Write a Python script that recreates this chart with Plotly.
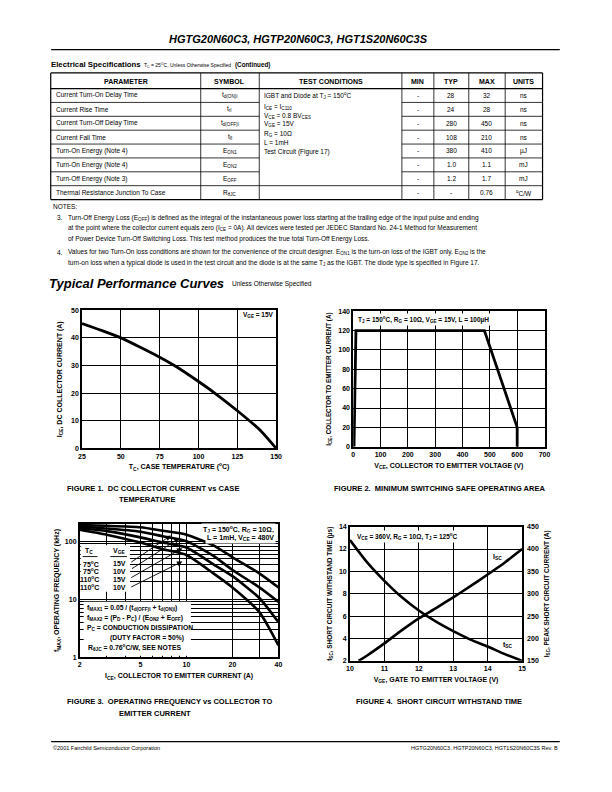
import math
import plotly.graph_objects as go

W, H = 612, 792
FONT = "Liberation Sans, Arial, Helvetica, sans-serif"

# ---------------- data ----------------
page_title = "HGTG20N60C3, HGTP20N60C3, HGT1S20N60C3S"
table_headers = ["PARAMETER", "SYMBOL", "TEST CONDITIONS", "MIN", "TYP", "MAX", "UNITS"]
params = ["Current Turn-On Delay Time", "Current Rise Time", "Current Turn-Off Delay Time",
          "Current Fall Time", "Turn-On Energy (Note 4)", "Turn-On Energy (Note 4)",
          "Turn-Off Energy (Note 3)", "Thermal Resistance Junction To Case"]
symbols = ["t<sub>d(ON)I</sub>", "t<sub>rI</sub>", "t<sub>d(OFF)I</sub>", "t<sub>fI</sub>",
           "E<sub>ON1</sub>", "E<sub>ON2</sub>", "E<sub>OFF</sub>", "R<sub>θJC</sub>"]
test_conditions = ["IGBT and Diode at T<sub>J</sub> = 150<sup>o</sup>C",
                   "I<sub>CE</sub> = I<sub>C110</sub>",
                   "V<sub>CE</sub> = 0.8 BV<sub>CES</sub>",
                   "V<sub>GE</sub> = 15V",
                   "R<sub>G</sub> = 10Ω",
                   "L = 1mH",
                   "Test Circuit (Figure 17)"]
mins = ["-", "-", "-", "-", "-", "-", "-", "-"]
typs = ["28", "24", "280", "108", "380", "1.0", "1.2", "-"]
maxs = ["32", "28", "450", "210", "410", "1.1", "1.7", "0.76"]
units = ["ns", "ns", "ns", "ns", "µJ", "mJ", "mJ", "<sup>o</sup>C/W"]

notes = [
    ("3.", ["Turn-Off Energy Loss (E<sub>OFF</sub>) is defined as the integral of the instantaneous power loss starting at the trailing edge of the input pulse and ending",
            "at the point where the collector current equals zero (I<sub>CE</sub> = 0A). All devices were tested per JEDEC Standard No. 24-1 Method for Measurement",
            "of Power Device Turn-Off Switching Loss. This test method produces the true total Turn-Off Energy Loss."]),
    ("4.", ["Values for two Turn-On loss conditions are shown for the convenience of the circuit designer. E<sub>ON1</sub> is the turn-on loss of the IGBT only. E<sub>ON2</sub> is the",
            "turn-on loss when a typical diode is used in the test circuit and the diode is at the same T<sub>J</sub> as the IGBT. The diode type is specified in Figure 17."]),
]

# Figure 1
fig1_tc = [25, 37.5, 50, 62.5, 75, 85, 100, 110, 125, 140, 150]
fig1_ice = [45.2, 42.7, 40, 36.6, 33, 29.8, 24.2, 20.2, 13.6, 6.4, 0]
# Figure 2
fig2_vce = [3, 10, 480, 600, 600]
fig2_ice = [0, 120, 120, 20, 0]
# Figure 3
fig3_ice = [2, 3, 5, 7, 10, 15, 20, 30, 40]
fig3_f_75_15 = [190, 185, 175, 152, 130, 85, 53, 28, 16]
fig3_f_75_10 = [178, 166, 146, 122, 100, 56, 32, 16, 9]
fig3_f_110_15 = [168, 150, 117, 95, 78, 40, 25, 10.5, 4]
fig3_f_110_10 = [158, 130, 95, 73, 58, 28, 16, 6, 1.6]
fig3_tc_labels = ["75<sup>o</sup>C", "75<sup>o</sup>C", "110<sup>o</sup>C", "110<sup>o</sup>C"]
fig3_vge_labels = ["15V", "10V", "15V", "10V"]
fig3_arrow_tail = [(4.25, 42), (4.3, 32.5), (4.25, 22.8), (4.25, 15.8)]
fig3_arrow_tip = [(7.9, 126), (9.0, 113), (9.4, 76), (9.4, 45)]
# Figure 4
fig4_vge = [10, 10.5, 11, 11.5, 12, 12.5, 13, 13.5, 14, 14.5, 15]
fig4_tsc = [12.8, 10.8, 9.15, 7.7, 6.5, 5.5, 4.65, 3.9, 3.28, 2.6, 2.0]
fig4_vge_i = [10.25, 10.5, 11, 11.5, 12, 12.5, 13, 13.5, 14, 14.5, 15]
fig4_isc = [150, 162, 189, 218, 245, 268, 292, 317, 343, 370, 400]


def px(x):
    return x / W


def py(y):
    return 1 - y / H


fig = go.Figure()
annotations = []
shapes = []


def text(x, y, s, size=7, bold=False, italic=False, xanchor="left", yanchor="middle", bg=None, ref=("paper", "paper")):
    d = dict(x=x, y=y, xref=ref[0], yref=ref[1], text=s, showarrow=False,
             xanchor=xanchor, yanchor=yanchor,
             font=dict(family=FONT, size=size, color="black",
                       weight="bold" if bold else "normal",
                       style="italic" if italic else "normal"))
    if bg:
        d["bgcolor"] = bg
        d["borderpad"] = 1
    annotations.append(d)


def hline(x0, x1, y, w=1):
    shapes.append(dict(type="line", xref="paper", yref="paper", x0=px(x0), x1=px(x1),
                       y0=py(y), y1=py(y), line=dict(color="black", width=w)))


def vline(x, y0, y1, w=1):
    shapes.append(dict(type="line", xref="paper", yref="paper", x0=px(x), x1=px(x),
                       y0=py(y0), y1=py(y1), line=dict(color="black", width=w)))


# ---------------- header ----------------
text(px(299), py(35), page_title, size=11, bold=True, italic=True, xanchor="center")
hline(48, 565, 46, 1.2)
text(px(46), py(61), "Electrical Specifications", size=7.8, bold=True)
text(px(140), py(62), "T<sub>C</sub> = 25<sup>O</sup>C, Unless Otherwise Specified", size=5)
text(px(233), py(62), "(Continued)", size=6.3, bold=True)

# ---------------- table ----------------
col_x = [47.5, 200, 259.5, 404.5, 437, 472.5, 509.5, 547.5]
row_top = 69.5
header_bot = 85.3
row_h = 14
n_rows = len(params)
table_bot = header_bot + n_rows * row_h
hline(col_x[0], col_x[-1], row_top, 1.2)
hline(col_x[0], col_x[-1], header_bot, 1.2)
hline(col_x[0], col_x[-1], table_bot, 1.2)
for i in range(1, n_rows):
    yy = header_bot + i * row_h
    if i == n_rows - 1:
        hline(col_x[0], col_x[-1], yy, 0.8)
    else:
        hline(col_x[0], col_x[2], yy, 0.8)
        hline(col_x[3], col_x[-1], yy, 0.8)
for j, cx in enumerate(col_x):
    vline(cx, row_top, table_bot, 1.2 if j in (0, len(col_x) - 1) else 0.8)
for j, h in enumerate(table_headers):
    text(px((col_x[j] + col_x[j + 1]) / 2), py((row_top + header_bot) / 2 + 0.5), h, size=7, bold=True, xanchor="center")
for i in range(n_rows):
    yc = header_bot + i * row_h + row_h / 2
    text(px(col_x[0] + 3), py(yc), params[i], size=6.5)
    text(px((col_x[1] + col_x[2]) / 2), py(yc), symbols[i], size=6.5, xanchor="center")
    text(px((col_x[3] + col_x[4]) / 2), py(yc), mins[i], size=6.5, xanchor="center")
    text(px((col_x[4] + col_x[5]) / 2), py(yc), typs[i], size=6.5, xanchor="center")
    text(px((col_x[5] + col_x[6]) / 2), py(yc), maxs[i], size=6.5, xanchor="center")
    text(px((col_x[6] + col_x[7]) / 2), py(yc), units[i], size=6.5, xanchor="center")
tc_y = [92.3, 103.5, 112.5, 121.5, 131, 140, 149.5]
for k, s in enumerate(test_conditions):
    text(px(col_x[2] + 3), py(tc_y[k]), s, size=6.5)

# ---------------- notes ----------------
text(px(48), py(204), "NOTES:", size=6.5)
note_y = [[215.7, 226.5, 237.5], [250.7, 261.5]]
for (num, lines), ys in zip(notes, note_y):
    text(px(52), py(ys[0]), num, size=6.5)
    for s, yy in zip(lines, ys):
        text(px(63), py(yy), s, size=6.5)

text(px(44), py(281.5), "Typical Performance Curves", size=13, bold=True, italic=True)
text(px(230), py(282), "Unless Otherwise Specified", size=6.5)

# ---------------- axes domains ----------------
dom = {
    1: ((79.3, 276.7), (448.3, 309)),
    2: ((355, 549.5), (446.7, 310)),
    3: ((77, 279), (659, 524.5)),
    4: ((351.7, 526.7), (662.7, 527.3)),
}
FIG3_XR = (math.log10(2), math.log10(40))
FIG3_YR = (0, math.log10(200))


def fig3_pt(x, y):
    """page pixel -> figure 3 data value (log axes), for background boxes"""
    (x0, x1), (yb, yt) = dom[3]
    lx = FIG3_XR[0] + (x - x0) / (x1 - x0) * (FIG3_XR[1] - FIG3_XR[0])
    ly = FIG3_YR[0] + (yb - y) / (yb - yt) * (FIG3_YR[1] - FIG3_YR[0])
    return 10 ** lx, 10 ** ly


TICKF = dict(family=FONT, size=7, color="black", weight="bold")
TITF = dict(family=FONT, size=7, color="black", weight="bold")


def ax_common(**kw):
    base = dict(showline=True, linecolor="black", linewidth=1.6, mirror=True,
                showgrid=True, gridcolor="black", gridwidth=1, zeroline=False,
                ticks="", tickfont=TICKF, title_font=TITF, fixedrange=True)
    base.update(kw)
    return base


layout = dict(width=W, height=H, margin=dict(l=0, r=0, t=0, b=0),
              paper_bgcolor="white", plot_bgcolor="white", showlegend=False)

# Figure 1
fig.add_trace(go.Scatter(x=fig1_tc, y=fig1_ice, mode="lines", line=dict(color="black", width=2.8, shape="spline", smoothing=0.6),
                         xaxis="x", yaxis="y"))
layout["xaxis"] = ax_common(domain=[px(dom[1][0][0]), px(dom[1][0][1])], anchor="y", range=[25, 150],
                            tickvals=[25, 50, 75, 100, 125, 150],
                            title=dict(text="T<sub>C</sub>, CASE TEMPERATURE (<sup>o</sup>C)", standoff=6))
layout["yaxis"] = ax_common(domain=[py(dom[1][1][0]), py(dom[1][1][1])], anchor="x", range=[0, 50],
                            tickvals=[0, 10, 20, 30, 40, 50],
                            title=dict(text="I<sub>CE</sub>, DC COLLECTOR CURRENT (A)", standoff=8))
text(150, 48.2, "V<sub>GE</sub> = 15V", size=6.5, bold=True, xanchor="right", ref=("x", "y"))

# Figure 2
fig.add_trace(go.Scatter(x=fig2_vce, y=fig2_ice, mode="lines", line=dict(color="black", width=2.8),
                         xaxis="x2", yaxis="y2"))
layout["xaxis2"] = ax_common(domain=[px(dom[2][0][0]), px(dom[2][0][1])], anchor="y2", range=[0, 700],
                             tickvals=[0, 100, 200, 300, 400, 500, 600, 700],
                             title=dict(text="V<sub>CE</sub>, COLLECTOR TO EMITTER VOLTAGE (V)", standoff=6))
layout["yaxis2"] = ax_common(domain=[py(dom[2][1][0]), py(dom[2][1][1])], anchor="x2", range=[0, 140],
                             tickvals=[0, 20, 40, 60, 80, 100, 120, 140],
                             title=dict(text="I<sub>CE</sub>, COLLECTOR TO EMITTER CURRENT (A)", standoff=6,
                                        font=dict(family=FONT, size=6.3, color="black", weight="bold")))
text(12, 131, "T<sub>J</sub> = 150<sup>o</sup>C, R<sub>G</sub> = 10Ω, V<sub>GE</sub> = 15V, L = 100µH", size=6.5, bold=True,
     bg="white", ref=("x2", "y2"))

# Figure 3: white background boxes behind the in-plot text (hide grid), then curves
for (xa, xb, ya, yb) in [(78, 128, 546, 593), (81, 190, 603, 657.5)]:
    (bx0, by0), (bx1, by1) = fig3_pt(xa, yb), fig3_pt(xb, ya)
    fig.add_trace(go.Scatter(x=[bx0, bx1, bx1, bx0, bx0], y=[by0, by0, by1, by1, by0], mode="lines",
                             fill="toself", fillcolor="white", line=dict(width=0, color="white"),
                             hoverinfo="skip", xaxis="x3", yaxis="y3"))
for series in (fig3_f_75_15, fig3_f_75_10, fig3_f_110_15, fig3_f_110_10):
    fig.add_trace(go.Scatter(x=fig3_ice, y=series, mode="lines",
                             line=dict(color="black", width=2.6, shape="spline", smoothing=0.6),
                             xaxis="x3", yaxis="y3"))
layout["xaxis3"] = ax_common(domain=[px(dom[3][0][0]), px(dom[3][0][1])], anchor="y3", type="log",
                             range=list(FIG3_XR), tickvals=[2, 5, 10, 20, 40],
                             ticktext=["2", "5", "10", "20", "40"],
                             minor=dict(tickvals=[3, 4, 6, 7, 8, 9, 30], showgrid=True, gridcolor="black", gridwidth=0.9, ticks=""),
                             title=dict(text="I<sub>CE</sub>, COLLECTOR TO EMITTER CURRENT (A)", standoff=6))
layout["yaxis3"] = ax_common(domain=[py(dom[3][1][0]), py(dom[3][1][1])], anchor="x3", type="log",
                             range=list(FIG3_YR), tickvals=[1, 10, 100], ticktext=["1", "10", "100"],
                             minor=dict(tickvals=[2, 3, 4, 5, 6, 7, 8, 9, 20, 30, 40, 50, 60, 70, 80, 90],
                                        showgrid=True, gridcolor="black", gridwidth=0.9, ticks=""),
                             title=dict(text="f<sub>MAX</sub>, OPERATING FREQUENCY (kHz)", standoff=4))
text(px(86.5), py(552), "T<sub>C</sub>", size=7, bold=True, xanchor="center")
text(px(116.5), py(552), "V<sub>GE</sub>", size=7, bold=True, xanchor="center")
hline(80, 95, 557.5, 0.9)
hline(108, 125, 557.5, 0.9)
row_ys = [564.5, 572.5, 580.5, 588.5]
for k in range(4):
    text(px(99), py(row_ys[k]), fig3_tc_labels[k], size=7, bold=True, xanchor="right")
    text(px(109), py(row_ys[k]), fig3_vge_labels[k], size=7, bold=True, xanchor="left")
for (tx, ty), (hx, hy) in zip(fig3_arrow_tail, fig3_arrow_tip):
    annotations.append(dict(x=math.log10(hx), y=math.log10(hy), ax=math.log10(tx), ay=math.log10(ty),
                            xref="x3", yref="y3", axref="x3", ayref="y3", text="", showarrow=True,
                            arrowhead=2, arrowsize=1.2, arrowwidth=0.9, arrowcolor="black", standoff=0))
formula_lines = [
    (82, 609.5, "f<sub>MAX1</sub> = 0.05 / (t<sub>d(OFF)I</sub> + t<sub>d(ON)I</sub>)", "left"),
    (82, 619.5, "f<sub>MAX2</sub> = (P<sub>D</sub> - P<sub>C</sub>) / (E<sub>ON2</sub> + E<sub>OFF</sub>)", "left"),
    (82, 629.5, "P<sub>C</sub> = CONDUCTION DISSIPATION", "left"),
    (145, 639.5, "(DUTY FACTOR = 50%)", "center"),
    (83, 649.5, "R<sub>θJC</sub> = 0.76<sup>o</sup>C/W, SEE NOTES", "left"),
]
for fx, fy, s, anc in formula_lines:
    text(px(fx), py(fy), s, size=6.8, bold=True, xanchor=anc)
text(px(277), py(530.5), "T<sub>J</sub> = 150<sup>o</sup>C, R<sub>G</sub> = 10Ω,", size=7, bold=True, xanchor="right", bg="white")
text(px(277), py(538.5), "L = 1mH, V<sub>CE</sub> = 480V", size=7, bold=True, xanchor="right", bg="white")

# Figure 4
fig.add_trace(go.Scatter(x=fig4_vge, y=fig4_tsc, mode="lines",
                         line=dict(color="black", width=2.6, shape="spline", smoothing=0.6),
                         xaxis="x4", yaxis="y4"))
fig.add_trace(go.Scatter(x=fig4_vge_i, y=fig4_isc, mode="lines",
                         line=dict(color="black", width=2.6, shape="spline", smoothing=0.6),
                         xaxis="x4", yaxis="y5"))
layout["xaxis4"] = ax_common(domain=[px(dom[4][0][0]), px(dom[4][0][1])], anchor="y4", range=[10, 15],
                             tickvals=[10, 11, 12, 13, 14, 15],
                             title=dict(text="V<sub>GE</sub>, GATE TO EMITTER VOLTAGE (V)", standoff=6))
layout["yaxis4"] = ax_common(domain=[py(dom[4][1][0]), py(dom[4][1][1])], anchor="x4", range=[2, 14],
                             tickvals=[2, 4, 6, 8, 10, 12, 14],
                             title=dict(text="t<sub>SC</sub>, SHORT CIRCUIT WITHSTAND TIME (µs)", standoff=6,
                                        font=dict(family=FONT, size=6.5, color="black", weight="bold")))
layout["yaxis5"] = dict(overlaying="y4", anchor="x4", side="right", range=[150, 450],
                        tickvals=[150, 200, 250, 300, 350, 400, 450], showgrid=False, zeroline=False,
                        showline=False, ticks="", tickfont=TICKF, fixedrange=True, ticklabelstandoff=4,
                        title=dict(text="I<sub>SC</sub>, PEAK SHORT CIRCUIT CURRENT (A)", standoff=6,
                                   font=dict(family=FONT, size=6.5, color="black", weight="bold")))
text(10.15, 13.15, "V<sub>CE</sub> = 360V, R<sub>G</sub> = 10Ω, T<sub>J</sub> = 125<sup>o</sup>C", size=6.5, bold=True,
     bg="white", ref=("x4", "y4"))
text(14.28, 11.25, "I<sub>SC</sub>", size=7, bold=True, xanchor="center", ref=("x4", "y4"))
text(14.6, 3.4, "t<sub>SC</sub>", size=7, bold=True, xanchor="center", ref=("x4", "y4"))

# ---------------- captions ----------------
text(px(62), py(489), "FIGURE 1.  DC COLLECTOR CURRENT vs CASE", size=7.5, bold=True)
text(px(115), py(500), "TEMPERATURE", size=7.5, bold=True)
text(px(333), py(489), "FIGURE 2.  MINIMUM SWITCHING SAFE OPERATING AREA", size=7.5, bold=True)
text(px(62), py(704), "FIGURE 3.  OPERATING FREQUENCY vs COLLECTOR TO", size=7.5, bold=True)
text(px(115), py(715.5), "EMITTER CURRENT", size=7.5, bold=True)
text(px(356), py(704), "FIGURE 4.  SHORT CIRCUIT WITHSTAND TIME", size=7.5, bold=True)

# ---------------- footer ----------------
hline(48, 565, 744.3, 1.2)
text(px(48), py(751), "©2001 Fairchild Semiconductor Corporation", size=5.5)
text(px(565), py(751), "HGTG20N60C3, HGTP20N60C3, HGT1S20N60C3S Rev. B", size=5.5, xanchor="right")

layout["annotations"] = annotations
layout["shapes"] = shapes
fig.update_layout(**layout)
fig.write_html("out.html")
